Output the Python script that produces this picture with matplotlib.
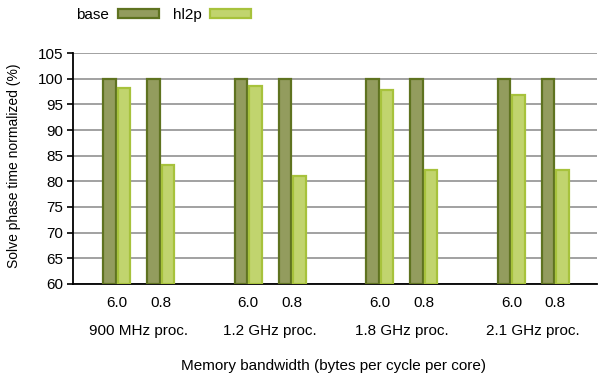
import numpy as np
import matplotlib.pyplot as plt
from matplotlib.patches import Patch
from matplotlib.transforms import blended_transform_factory

plt.rcParams["font.family"] = ["Liberation Sans", "DejaVu Sans"]

processors = ["900 MHz proc.", "1.2 GHz proc.", "1.8 GHz proc.", "2.1 GHz proc."]
bandwidths = ["6.0", "0.8"]
base = [100, 100, 100, 100, 100, 100, 100, 100]
hl2p = [98.3, 83.1, 98.5, 81.0, 97.9, 82.3, 96.9, 82.3]

# two bandwidth slots per processor, one empty slot between processors
x = np.array([1, 2, 4, 5, 7, 8, 10, 11])
w = 0.28

fig = plt.figure(figsize=(5.98, 3.77), dpi=100)
ax = fig.add_axes([0.122, 0.247, 0.876, 0.612])

ax.bar(x - 0.165, np.array(base) - 60, w, bottom=60, color="#939c5e",
       edgecolor="#5f7320", linewidth=1.6, zorder=3, label="base")
ax.bar(x + 0.165, np.array(hl2p) - 60, w, bottom=60, color="#c1d46e",
       edgecolor="#a7c23c", linewidth=1.6, zorder=3, label="hl2p")

ax.set_xlim(0, 11.95)
ax.set_ylim(60, 105)
ax.set_yticks(range(60, 106, 5))
ax.set_xticks(x)
ax.set_xticklabels(bandwidths * 4)
ax.tick_params(axis="x", length=0, pad=9, labelsize=11)
ax.tick_params(axis="y", length=4, width=1.2, labelsize=11, pad=3)
ax.yaxis.grid(True, color="#9a9a9a", linewidth=1.3, zorder=0)
for s in ["top", "right"]:
    ax.spines[s].set_visible(False)
ax.spines["left"].set_linewidth(1.3)
ax.spines["bottom"].set_linewidth(1.3)

trans = blended_transform_factory(ax.transData, fig.transFigure)
for i, name in enumerate(processors):
    ax.text(x[2 * i] + 0.5, 1 - 331 / 377, name, transform=trans,
            ha="center", va="center", fontsize=11)

fig.text(0.558, 1 - 366 / 377, "Memory bandwidth (bytes per cycle per core)",
         ha="center", va="center", fontsize=11)
fig.text(0.024, 0.56, "Solve phase time normalized (%)", rotation=90,
         ha="center", va="center", fontsize=10)

handles = [Patch(facecolor="#939c5e", edgecolor="#5f7320", linewidth=1.6, label="base"),
           Patch(facecolor="#c1d46e", edgecolor="#a7c23c", linewidth=1.6, label="hl2p")]
fig.legend(handles=handles, loc="upper left", bbox_to_anchor=(0.105, 1.015), ncol=2,
           frameon=False, markerfirst=False, handlelength=2.7, handleheight=0.5,
           handletextpad=0.55, columnspacing=0.9, fontsize=11)

fig.savefig("out.png", dpi=100)
